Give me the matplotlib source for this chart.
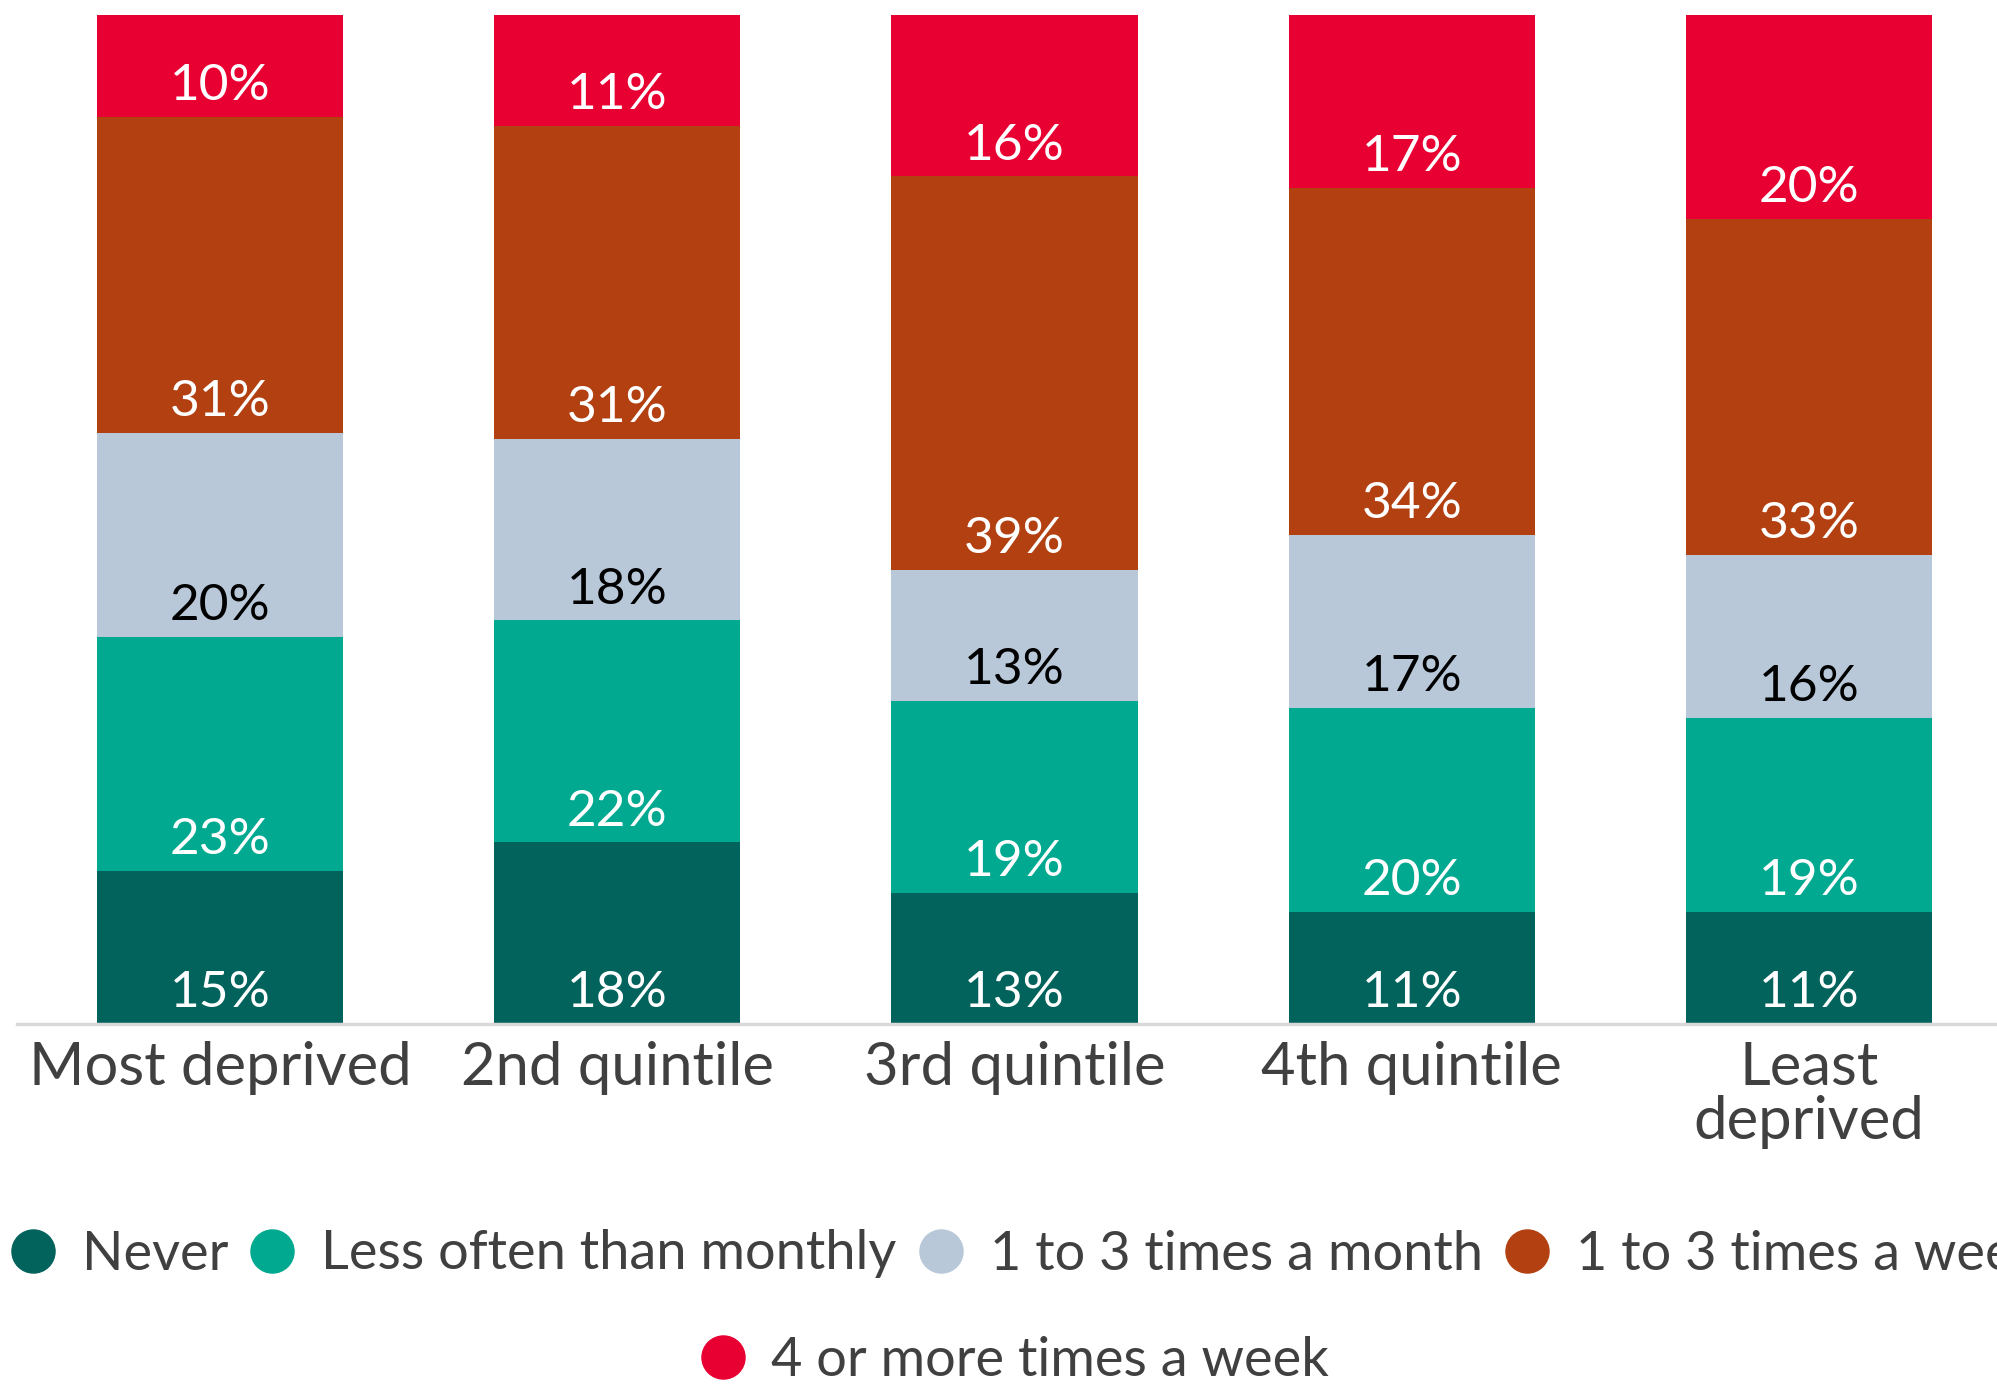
import matplotlib
matplotlib.use('Agg')
import matplotlib.pyplot as plt
from matplotlib.lines import Line2D
import numpy as np

plt.rcParams['font.family'] = ['Lato', 'DejaVu Sans']

# 数据
groups = ['Most deprived', '2nd quintile', '3rd quintile', '4th quintile', 'Least\ndeprived']
series = ['Never', 'Less often than monthly', '1 to 3 times a month',
          '1 to 3 times a week', '4 or more times a week']
never = [15, 18, 13, 11, 11]
less_monthly = [23, 22, 19, 20, 19]
month_1to3 = [20, 18, 13, 17, 16]
week_1to3 = [31, 31, 39, 34, 33]
week_4plus = [10, 11, 16, 17, 20]

colors = ['#02625C', '#00A98F', '#B8C8D8', '#B34011', '#E90033']
label_colors = ['white', 'white', 'black', 'white', 'white']
text_grey = '#404040'

values = np.array([never, less_monthly, month_1to3, week_1to3, week_4plus], dtype=float)
# 100% 堆叠
shares = values / values.sum(axis=0) * 100

fig = plt.figure(figsize=(19.97, 13.85), dpi=100)
ax = fig.add_axes([17/1997, 1 - 1024/1385, 1 - 17/1997, (1024 - 15)/1385])

x = np.arange(len(groups))
bottom = np.zeros(len(groups))
for i, name in enumerate(series):
    ax.bar(x, shares[i], bottom=bottom, width=0.62, color=colors[i], label=name)
    for j in range(len(groups)):
        ax.text(x[j], bottom[j] + 3.05, f'{int(values[i][j])}%', ha='center', va='center',
                color=label_colors[i], fontsize=37)
    bottom += shares[i]

ax.set_xlim(-0.511, 4.473)
ax.set_ylim(0, 100)
ax.set_yticks([])
ax.set_xticks(x)
ax.set_xticklabels(groups, fontsize=43, color=text_grey, linespacing=1.0)
ax.tick_params(axis='x', length=0, pad=12)

for s in ['top', 'right', 'left']:
    ax.spines[s].set_visible(False)
ax.spines['bottom'].set_color('#D9D9D9')
ax.spines['bottom'].set_linewidth(2.5)

# 图例
handles = [Line2D([], [], marker='o', linestyle='', markersize=31,
                  markerfacecolor=c, markeredgecolor=c) for c in colors]
leg1 = fig.legend(handles[:4], series[:4], loc='center', bbox_to_anchor=(0.5125, 1 - 1254/1385),
                  ncol=4, frameon=False, fontsize=39, handletextpad=0.4, columnspacing=0.32,
                  handlelength=1.0, labelcolor=text_grey)
leg2 = fig.legend(handles[4:], series[4:], loc='center', bbox_to_anchor=(0.507, 1 - 1360/1385),
                  ncol=1, frameon=False, fontsize=39, handletextpad=0.4,
                  handlelength=1.0, labelcolor=text_grey)

plt.savefig('out.png', dpi=100)
plt.close('all')
